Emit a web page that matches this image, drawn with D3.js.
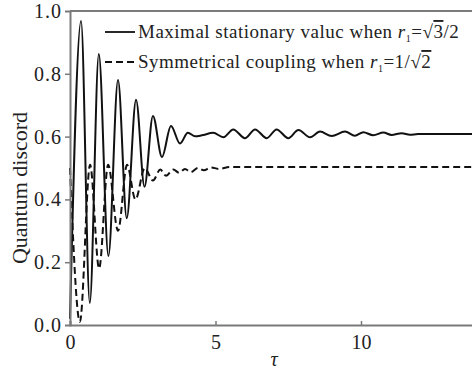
<!DOCTYPE html>
<meta charset="utf-8">
<script src="https://d3js.org/d3.v7.min.js"></script>
<style>
  body { margin: 0; background: #fff; }
  text { font-family: "Liberation Serif", "Times New Roman", serif; }
</style>
<div id="my_dataviz"></div>
<script>

// values: [tau, discord]
var maximalCurve = [
  [0, 0.02], [0.38, 0.968], [0.68, 0.07], [0.99, 0.863], [1.32, 0.22],
  [1.65, 0.78], [1.95, 0.34], [2.27, 0.717], [2.56, 0.44], [2.85, 0.666],
  [3.16, 0.535], [3.47, 0.634], [3.78, 0.578], [4.05, 0.612], [4.3, 0.601],
  [4.53, 0.604], [4.92, 0.612], [5.27, 0.598], [5.61, 0.623], [6.01, 0.595],
  [6.36, 0.623], [6.76, 0.595], [7.10, 0.623], [7.50, 0.595], [7.85, 0.621],
  [8.25, 0.598], [8.59, 0.616], [8.99, 0.602], [9.45, 0.616], [9.79, 0.603],
  [10.08, 0.614], [10.42, 0.604], [10.77, 0.613], [11.05, 0.605], [11.40, 0.611],
  [11.68, 0.606], [11.96, 0.608], [14, 0.608]
];

var symmetricCurve = [
  [0, 0.5], [0.34, 0.01], [0.69, 0.51], [1.0, 0.18], [1.31, 0.51],
  [1.65, 0.30], [1.96, 0.51], [2.25, 0.40], [2.57, 0.5], [2.85, 0.46],
  [3.1, 0.495], [3.3, 0.475], [3.55, 0.495], [3.75, 0.485], [3.95, 0.497],
  [4.15, 0.487], [4.4, 0.5], [4.6, 0.493], [4.85, 0.502], [5.1, 0.497],
  [5.5, 0.503], [14, 0.503]
];

var xTicks = [0, 5, 10];
var yTicks = [0, 0.2, 0.4, 0.6, 0.8, 1.0];

var margin = {top: 11, left: 70},
    plotH = 314,
    width = 472, height = 371;

var svg = d3.select("#my_dataviz")
  .append("svg")
    .attr("width", width)
    .attr("height", height);

var x = d3.scaleLinear().domain([0, 14]).range([margin.left, margin.left + 14 * 29.1]);
var y = d3.scaleLinear().domain([0, 1]).range([margin.top + plotH, margin.top]);

var axisColor = "#7a7a7a";

// curves
var line = d3.line()
  .x(function(d) { return x(d[0]); })
  .y(function(d) { return y(d[1]); })
  .curve(d3.curveMonotoneX);

svg.append("path")
  .datum(symmetricCurve)
  .attr("fill", "none")
  .attr("stroke", "#111")
  .attr("stroke-width", 2)
  .attr("stroke-dasharray", "7,4")
  .attr("d", line);

svg.append("path")
  .datum(maximalCurve)
  .attr("fill", "none")
  .attr("stroke", "#111")
  .attr("stroke-width", 2)
  .attr("d", line);

// Y axis
var yAxis = svg.append("g")
  .attr("transform", "translate(" + margin.left + ",0)")
  .call(d3.axisLeft(y).tickValues(yTicks).tickSize(5).tickPadding(3).tickFormat(d3.format(".1f")));
yAxis.select(".domain").attr("stroke", axisColor).attr("stroke-width", 2);
yAxis.selectAll(".tick line").attr("stroke", axisColor).attr("stroke-width", 1.5)
  .attr("opacity", function(d) { return (d === 0 || d === 1) ? 0 : 1; });
yAxis.selectAll(".tick text").attr("fill", "#222").style("font-size", "20px")
  .style("letter-spacing", "1px")
  .style("font-family", "'Liberation Serif', serif");

// X axis
var xAxis = svg.append("g")
  .attr("transform", "translate(0," + (margin.top + plotH) + ")")
  .call(d3.axisBottom(x).tickValues(xTicks).tickSize(-4).tickPadding(10));
xAxis.select(".domain").attr("stroke", axisColor).attr("stroke-width", 2);
xAxis.selectAll(".tick line").attr("stroke", axisColor).attr("stroke-width", 1.5);
xAxis.selectAll(".tick text").attr("fill", "#222").style("font-size", "20px")
  .style("font-family", "'Liberation Serif', serif");

// top frame
svg.append("line")
  .attr("x1", margin.left).attr("x2", width)
  .attr("y1", margin.top).attr("y2", margin.top)
  .attr("stroke", axisColor).attr("stroke-width", 2);

// axis labels
svg.append("text")
  .attr("x", 274).attr("y", 366)
  .attr("text-anchor", "middle")
  .style("font-size", "20px").style("font-style", "italic")
  .attr("fill", "#222")
  .text("τ");

svg.append("text")
  .attr("transform", "translate(27,188) rotate(-90)")
  .attr("text-anchor", "middle")
  .style("font-size", "22px")
  .attr("fill", "#222")
  .text("Quantum discord");

// legend
function legendLabel(yPos, lead, num, den, rootOnDen) {
  var t = svg.append("text")
    .attr("x", 138).attr("y", yPos)
    .style("font-size", "19px")
    .style("letter-spacing", "0.5px")
    .attr("fill", "#222");
  t.append("tspan").text(lead);
  t.append("tspan").style("font-style", "italic").text("r");
  t.append("tspan").attr("dy", 4).style("font-size", "10px").text("1");
  t.append("tspan").attr("dy", -4).text("=");
  if (rootOnDen) {
    t.append("tspan").text(num + "/√");
    t.append("tspan").style("text-decoration", "overline").text(den);
  } else {
    t.append("tspan").text("√");
    t.append("tspan").style("text-decoration", "overline").text(num);
    t.append("tspan").text("/" + den);
  }
}

svg.append("line")
  .attr("x1", 105).attr("x2", 135).attr("y1", 32).attr("y2", 32)
  .attr("stroke", "#111").attr("stroke-width", 1.8);
legendLabel(38, "Maximal stationary valuc when ", "3", "2", false);

svg.append("line")
  .attr("x1", 105).attr("x2", 135).attr("y1", 62).attr("y2", 62)
  .attr("stroke", "#111").attr("stroke-width", 1.8)
  .attr("stroke-dasharray", "7,4");
legendLabel(68, "Symmetrical coupling when ", "1", "2", true);

</script>
